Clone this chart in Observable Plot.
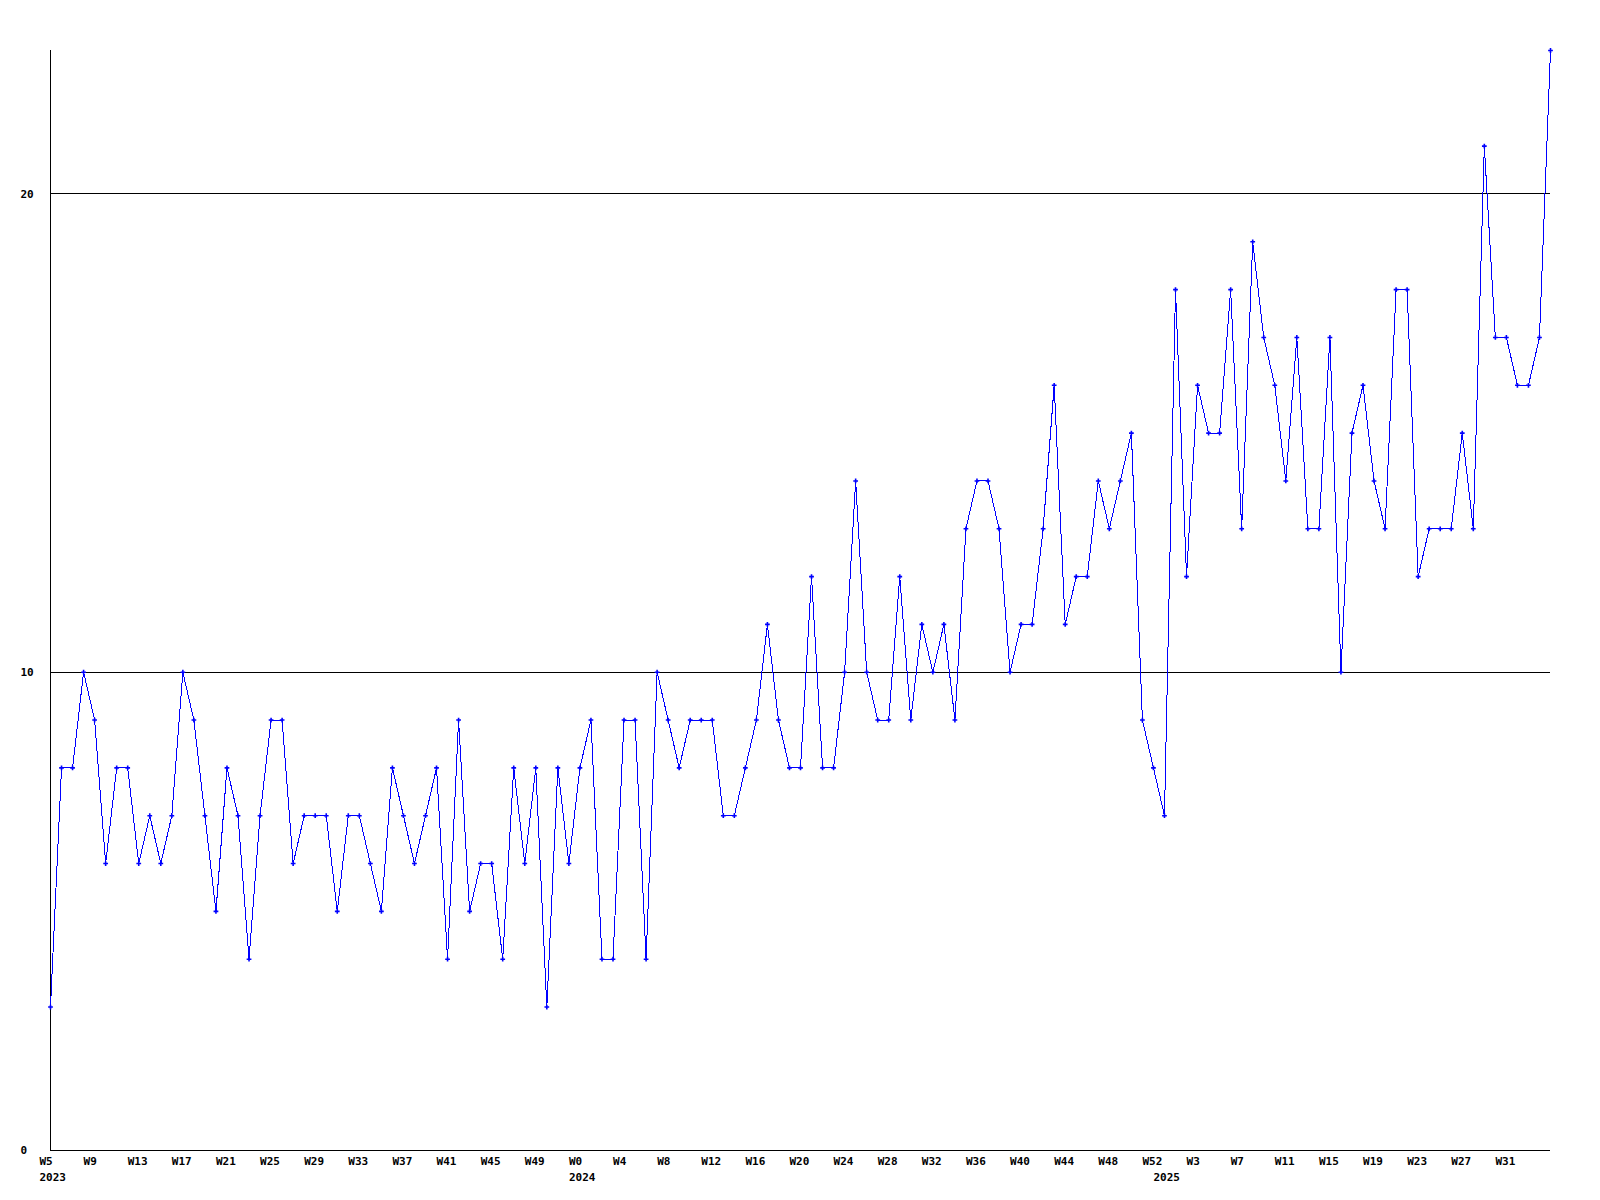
<!DOCTYPE html>
<html>
<head>
<meta charset="utf-8">
<script src="https://cdn.jsdelivr.net/npm/d3@7"></script>
<script src="https://cdn.jsdelivr.net/npm/@observablehq/plot@0.6"></script>
<style>
  html, body { margin: 0; padding: 0; background: #ffffff; }
  #chart svg { display: block; }
</style>
</head>
<body>
<div id="chart"></div>
<script>
// Weekly values
const years = [2023, 2024, 2025];
const firstWeeks = [5, 0, 0];
const values2023 = [3,8,8,10,9,6,8,8,6,7, 6,7,10,9,7,5,8,7,4,7, 9,9,6,7,7,7,5,7,7,6, 5,8,7,6,7,8,4,9,5,6, 6,4,8,6,8,3,8,6];
const values2024 = [8,9,4,4,9,9,4,10,9,8, 9,9,9,7,7,8,9,11,9,8, 8,12,8,8,10,14,10,9,9,12, 9,11,10,11,9,13,14,14,13,10, 11,11,13,16,11,12,12,14,13,14, 15,9,8];
const values2025 = [7,18,12,16,15,15,18,13,19,17, 16,14,17,13,13,17,10,15,16,14, 13,18,18,12,13,13,13,15,13,21, 17,17,16,16,17,23];
const yTickValues = [0, 10, 20];
const tickStep = 4;
const lastLabelledIndex = 132;

const seriesByYear = [values2023, values2024, values2025];
const data = [];
seriesByYear.forEach((vals, k) => {
  vals.forEach((v, j) => {
    data.push({i: data.length, year: years[k], week: firstWeeks[k] + j, value: v});
  });
});

const ticks = data.filter(d => d.i % tickStep === 0 && d.i <= lastLabelledIndex);
// year label sits under the first week of each year
const yearTicks = data.filter((d, k) => k === 0 || data[k - 1].year !== d.year);

const font = {fontFamily: "'DejaVu Sans Mono', monospace", fontWeight: "bold", fontSize: 11, fill: "#000000"};

const chart = Plot.plot({
  width: 1600,
  height: 1200,
  marginLeft: 50,
  marginRight: 50,
  marginTop: 50,
  marginBottom: 50,
  style: {background: "#ffffff", overflow: "visible"},
  x: {domain: [0, data.length - 1], axis: null},
  y: {domain: [0, 23], axis: null},
  marks: [
    Plot.ruleY(yTickValues, {stroke: "#000000", strokeWidth: 1, shapeRendering: "crispEdges"}),
    Plot.ruleX([0], {stroke: "#000000", strokeWidth: 1, shapeRendering: "crispEdges"}),
    Plot.line(data, {x: "i", y: "value", stroke: "#0000ff", strokeWidth: 1, shapeRendering: "crispEdges"}),
    Plot.dot(data, {x: "i", y: "value", symbol: "cross", fill: "#0000ff", r: 2}),
    Plot.text(yTickValues, {y: d => d, text: d => String(d), frameAnchor: "left", dx: -30, textAnchor: "start", ...font}),
    Plot.text(ticks, {x: "i", text: d => "W" + d.week, frameAnchor: "bottom", dy: 14, dx: -11, textAnchor: "start", ...font}),
    Plot.text(yearTicks, {x: "i", text: d => String(d.year), frameAnchor: "bottom", dy: 30, dx: -11, textAnchor: "start", ...font})
  ]
});
document.getElementById("chart").appendChild(chart);
</script>
</body>
</html>
